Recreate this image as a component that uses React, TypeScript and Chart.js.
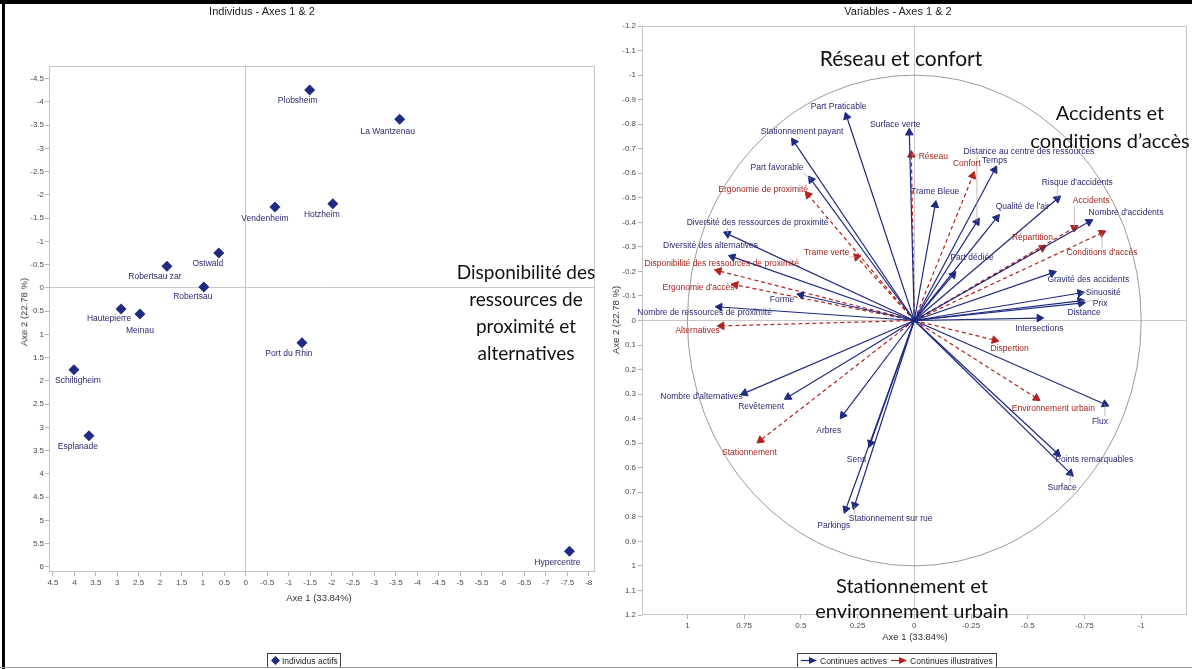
import React, { useEffect, useRef } from "react";
import { Chart, registerables } from "chart.js";

Chart.register(...registerables);

// ---------------- Left panel : individus ----------------
const indivNames = [
  "Plobsheim", "La Wantzenau", "Vendenheim", "Hotzheim", "Ostwald", "Robertsau zar",
  "Robertsau", "Hautepierre", "Meinau", "Port du Rhin", "Schiltigheim", "Esplanade", "Hypercentre",
];
const indivAxe1 = [-1.49, -3.59, -0.68, -2.03, 0.63, 1.84, 0.98, 2.91, 2.47, -1.31, 4.01, 3.66, -7.55];
const indivAxe2 = [-4.26, -3.63, -1.74, -1.81, -0.75, -0.47, -0.02, 0.45, 0.56, 1.18, 1.76, 3.18, 5.66];
// label offsets (px) relative to the marker
const indivLabelDx = [-12, -12, -10, -11, -11, -12, -11, -12, 0, -13, 4, -11, -12];
const indivLabelDy = [11, 12, 12, 11, 11, 11, 10, 10, 17, 11, 11, 11, 11];

const leftXTicks = [4.5, 4, 3.5, 3, 2.5, 2, 1.5, 1, 0.5, 0, -0.5, -1, -1.5, -2, -2.5, -3, -3.5, -4, -4.5, -5, -5.5, -6, -6.5, -7, -7.5, -8];
const leftYTicks = [-4.5, -4, -3.5, -3, -2.5, -2, -1.5, -1, -0.5, 0, 0.5, 1, 1.5, 2, 2.5, 3, 3.5, 4, 4.5, 5, 5.5, 6];

// ---------------- Right panel : variables ----------------
const activeNames = [
  "Part Praticable", "Stationnement payant", "Part favorable", "Surface verte", "Trame Bleue",
  "Temps", "Distance au centre des ressources", "Qualité de l'air", "Risque d'accidents",
  "Nombre d'accidents", "Part dédiée", "Gravité des accidents", "Sinuosité", "Prix", "Distance",
  "Intersections", "Flux", "Points remarquables", "Surface", "Parkings", "Stationnement sur rue",
  "Sens", "Arbres", "Revêtement", "Nombre d'alternatives", "Nombre de ressources de proximité",
  "Forme", "Diversité des alternatives", "Diversité des ressources de proximité",
];
const activeAxe1 = [
  0.298, 0.53, 0.455, 0.022, -0.092,
  -0.354, -0.276, -0.363, -0.63,
  -0.77, -0.171, -0.608, -0.731, -0.731, -0.735,
  -0.551, -0.84, -0.63, -0.687, 0.302, 0.263,
  0.193, 0.315, 0.556, 0.748, 0.858,
  0.499, 0.801, 0.823,
];
const activeAxe2 = [
  -0.831, -0.728, -0.574, -0.765, -0.471,
  -0.614, -0.402, -0.418, -0.496,
  -0.402, -0.186, -0.194, -0.112, -0.08, -0.071,
  -0.01, 0.341, 0.541, 0.622, 0.769, 0.753,
  0.5, 0.386, 0.312, 0.296, -0.055,
  -0.104, -0.259, -0.353,
];
const activeLabelDx = [-8, 8, -34, -14, 0, 0, 52, 26, 20, 37, 19, 36, 23, 20, 3, 0, -5, 37, -8, -12, 36, -14, -14, -27, -43, -15, -19, -22, 30];
const activeLabelDy = [-10, -10, -12, -8, -13, -9, -70, -11, -16, -9, -17, 7, 0, 3, 10, 11, 17, 6, 15, 16, 13, 16, 15, 10, 4, 6, 5, -11, -11];

const illusNames = [
  "Réseau", "Confort", "Ergonomie de proximité", "Trame verte",
  "Disponibilité des ressources de proximité", "Ergonomie d'accès", "Alternatives",
  "Stationnement", "Répartition", "Accidents", "Conditions d'accès", "Dispertion",
  "Environnement urbain",
];
const illusAxe1 = [0.013, -0.258, 0.468, 0.254, 0.862, 0.788, 0.849, 0.678, -0.565, -0.705, -0.827, -0.354, -0.538];
const illusAxe2 = [-0.675, -0.59, -0.512, -0.259, -0.202, -0.145, 0.022, 0.488, -0.296, -0.378, -0.357, 0.08, 0.316];
const illusLabelDx = [22, -6, -45, -30, 3, -37, -24, -11, -10, 17, 0, 15, 17];
const illusLabelDy = [2, -12, -5, -4, -7, 3, 5, 12, -10, -27, 20, 9, 11];

const leaderLabels = [
  "Distance au centre des ressources", "Accidents", "Conditions d'accès", "Gravité des accidents",
  "Flux", "Surface", "Stationnement sur rue", "Prix", "Distance", "Part favorable",
  "Diversité des ressources de proximité", "Répartition", "Réseau", "Trame verte",
  "Disponibilité des ressources de proximité", "Risque d'accidents", "Sinuosité",
];

const rightXTicks = [1, 0.75, 0.5, 0.25, 0, -0.25, -0.5, -0.75, -1];
const rightYTicks = [-1.2, -1.1, -1, -0.9, -0.8, -0.7, -0.6, -0.5, -0.4, -0.3, -0.2, -0.1, 0, 0.1, 0.2, 0.3, 0.4, 0.5, 0.6, 0.7, 0.8, 0.9, 1, 1.1, 1.2];

const NAVY = "#1f2a82";
const RED = "#b3221d";
const LABEL_NAVY = "#2a2a70";
const LABEL_RED = "#a3241f";
const FONT = '"Liberation Sans", Arial, sans-serif';
const BIG_FONT = 'Lato, "Open Sans", sans-serif';

function axis(ticks: number[], min: number, max: number, reverse: boolean, fit: (s: any) => void, pad: number) {
  return {
    type: "linear" as const,
    min,
    max,
    reverse,
    afterBuildTicks: (a: any) => {
      a.ticks = ticks.map((v) => ({ value: v }));
    },
    afterFit: fit,
    ticks: {
      autoSkip: false,
      maxRotation: 0,
      padding: pad,
      color: "#4a4a4a",
      font: { family: FONT, size: 8 },
      callback: (v: any) => String(v),
    },
    grid: {
      color: (c: any) => (c.tick && c.tick.value === 0 ? "#c8c8c8" : "rgba(0,0,0,0)"),
      lineWidth: 1,
      drawTicks: true,
      tickLength: 4,
      tickColor: "#b4b4b4",
    },
    border: { display: false },
    title: { display: false },
  };
}

const framePlugin = {
  id: "frame",
  beforeDatasetsDraw(chart: any, _a: any, opts: any) {
    const { ctx, chartArea: a, scales } = chart;
    ctx.save();
    ctx.strokeStyle = "#c4c4c4";
    ctx.lineWidth = 1;
    ctx.strokeRect(Math.round(a.left) + 0.5, Math.round(a.top) + 0.5, Math.round(a.right - a.left) - 1, Math.round(a.bottom - a.top) - 1);
    if (opts && opts.circle) {
      const cx = scales.x.getPixelForValue(0);
      const cy = scales.y.getPixelForValue(0);
      const rx = Math.abs(scales.x.getPixelForValue(1) - cx);
      const ry = Math.abs(scales.y.getPixelForValue(1) - cy);
      ctx.strokeStyle = "#9a9a9a";
      ctx.beginPath();
      ctx.ellipse(cx, cy, rx, ry, 0, 0, Math.PI * 2);
      ctx.stroke();
    }
    ctx.restore();
  },
};

const indivLabelPlugin = {
  id: "indivLabels",
  afterDatasetsDraw(chart: any) {
    const { ctx } = chart;
    const meta = chart.getDatasetMeta(0);
    ctx.save();
    ctx.font = `8.5px ${FONT}`;
    ctx.fillStyle = LABEL_NAVY;
    ctx.textAlign = "center";
    ctx.textBaseline = "middle";
    meta.data.forEach((el: any, i: number) => {
      ctx.fillText(indivNames[i], el.x + indivLabelDx[i], el.y + indivLabelDy[i]);
    });
    ctx.restore();
  },
};

type Vec = { name: string; x: number; y: number; color: string; label: string; dashed: boolean; dx: number; dy: number };

const vectors: Vec[] = [
  ...activeNames.map((n, i) => ({ name: n, x: activeAxe1[i], y: activeAxe2[i], color: NAVY, label: LABEL_NAVY, dashed: false, dx: activeLabelDx[i], dy: activeLabelDy[i] })),
  ...illusNames.map((n, i) => ({ name: n, x: illusAxe1[i], y: illusAxe2[i], color: RED, label: LABEL_RED, dashed: true, dx: illusLabelDx[i], dy: illusLabelDy[i] })),
];

const vectorLabelPlugin = {
  id: "vectorLabels",
  afterDatasetsDraw(chart: any) {
    const { ctx } = chart;
    ctx.save();
    ctx.font = `8.5px ${FONT}`;
    ctx.textAlign = "center";
    ctx.textBaseline = "middle";
    vectors.forEach((v, i) => {
      const tip = chart.getDatasetMeta(i).data[1];
      if (!tip) return;
      const lx = tip.x + v.dx;
      const ly = tip.y + v.dy;
      if (leaderLabels.includes(v.name)) {
        const w = ctx.measureText(v.name).width;
        const l = lx - w / 2, r = lx + w / 2, t = ly - 5, b = ly + 5;
        const nx = Math.min(Math.max(tip.x, l), r);
        const ny = Math.min(Math.max(tip.y, t), b);
        if (Math.hypot(nx - tip.x, ny - tip.y) > 5) {
          ctx.strokeStyle = "#a0a0a0";
          ctx.lineWidth = 0.7;
          ctx.beginPath();
          ctx.moveTo(nx, ny);
          ctx.lineTo(tip.x, tip.y);
          ctx.stroke();
        }
      }
      ctx.fillStyle = v.label;
      ctx.fillText(v.name, lx, ly);
    });
    ctx.restore();
  },
};

function arrowAngle(c: any) {
  const ch = c.chart;
  const sx = ch.scales && ch.scales.x;
  const sy = ch.scales && ch.scales.y;
  const p = c.raw;
  if (!p || !sx || !sy) return 0;
  const dx = sx.getPixelForValue(p.x) - sx.getPixelForValue(0);
  const dy = sy.getPixelForValue(p.y) - sy.getPixelForValue(0);
  return (Math.atan2(dx, -dy) * 180) / Math.PI;
}

function makeLeft(canvas: HTMLCanvasElement) {
  return new Chart(canvas, {
    type: "scatter",
    data: {
      datasets: [
        {
          label: "Individus actifs",
          data: indivNames.map((_, i) => ({ x: indivAxe1[i], y: indivAxe2[i] })),
          pointStyle: "rectRot",
          pointRadius: 5.5,
          backgroundColor: NAVY,
          borderColor: NAVY,
          borderWidth: 0,
        },
      ],
    },
    options: {
      animation: false,
      responsive: false,
      events: [],
      layout: { padding: { top: 66, right: 5, left: 0, bottom: 0 } },
      plugins: { legend: { display: false }, tooltip: { enabled: false }, title: { display: false } },
      scales: {
        x: axis(leftXTicks, -8.135, 4.592, true, (s: any) => { s.height = 97; }, 2),
        y: axis(leftYTicks, -4.774, 6.108, true, (s: any) => { s.width = 49; }, 1),
      },
    } as any,
    plugins: [framePlugin, indivLabelPlugin],
  });
}

function makeRight(canvas: HTMLCanvasElement) {
  return new Chart(canvas, {
    type: "scatter",
    data: {
      datasets: vectors.map((v) => ({
        label: v.name,
        showLine: true,
        data: [{ x: 0, y: 0 }, { x: v.x, y: v.y }],
        borderColor: v.color,
        borderWidth: 1.2,
        borderDash: v.dashed ? [4, 3] : [],
        pointRadius: [0, 4.4],
        pointStyle: "triangle",
        pointBackgroundColor: v.color,
        pointBorderColor: v.color,
        pointBorderWidth: 1,
        pointRotation: arrowAngle,
      })),
    },
    options: {
      animation: false,
      responsive: false,
      events: [],
      layout: { padding: { top: 26, right: 2, left: 0, bottom: 0 } },
      plugins: { legend: { display: false }, tooltip: { enabled: false }, title: { display: false }, frame: { circle: true } },
      scales: {
        x: axis(rightXTicks, -1.2, 1.2, true, (s: any) => { s.height = 54; }, 2),
        y: axis(rightYTicks, -1.2, 1.2, true, (s: any) => { s.width = 42; }, 2),
      },
    } as any,
    plugins: [framePlugin, vectorLabelPlugin],
  });
}

const abs = (x: number, y: number, extra: React.CSSProperties = {}): React.CSSProperties => ({
  position: "absolute",
  left: x,
  top: y,
  transform: "translate(-50%, -50%)",
  whiteSpace: "nowrap",
  lineHeight: 1,
  ...extra,
});

const bigText: React.CSSProperties = { fontFamily: BIG_FONT, fontSize: 20, color: "#111", textAlign: "center" };

export default function App() {
  const leftRef = useRef<HTMLCanvasElement>(null);
  const rightRef = useRef<HTMLCanvasElement>(null);

  useEffect(() => {
    document.body.style.margin = "0";
    const charts: Chart[] = [];
    if (leftRef.current) charts.push(makeLeft(leftRef.current));
    if (rightRef.current) charts.push(makeRight(rightRef.current));
    return () => charts.forEach((c) => c.destroy());
  }, []);

  return (
    <div style={{ position: "relative", width: 1192, height: 669, background: "#fff", overflow: "hidden", fontFamily: FONT }}>
      <canvas ref={leftRef} width={600} height={669} style={{ position: "absolute", left: 0, top: 0 }} />
      <canvas ref={rightRef} width={592} height={669} style={{ position: "absolute", left: 600, top: 0 }} />

      {/* frame */}
      <div style={{ position: "absolute", left: 0, top: 0, width: 1192, height: 4, background: "#000" }} />
      <div style={{ position: "absolute", left: 2, top: 0, width: 3, height: 669, background: "#000" }} />
      <div style={{ position: "absolute", left: 0, top: 667, width: 1192, height: 1, background: "#9a9a9a" }} />

      {/* titles */}
      <div style={abs(262, 11, { fontSize: 11, color: "#222" })}>Individus - Axes 1 &amp; 2</div>
      <div style={abs(898, 11, { fontSize: 11, color: "#222" })}>Variables - Axes 1 &amp; 2</div>

      {/* axis titles */}
      <div style={abs(319, 598, { fontSize: 9.5, color: "#333" })}>Axe 1 (33.84%)</div>
      <div style={abs(24, 312, { fontSize: 9.5, color: "#333", transform: "translate(-50%, -50%) rotate(-90deg)" })}>Axe 2 (22.78 %)</div>
      <div style={abs(915, 637, { fontSize: 9.5, color: "#333" })}>Axe 1 (33.84%)</div>
      <div style={abs(616, 320, { fontSize: 9.5, color: "#333", transform: "translate(-50%, -50%) rotate(-90deg)" })}>Axe 2 (22.78 %)</div>

      {/* legends */}
      <div style={{ position: "absolute", left: 267, top: 653, height: 13, padding: "0 2px 0 3px", border: "1px solid #444", borderBottom: "none", display: "flex", alignItems: "center", fontSize: 8.5, color: "#222" }}>
        <svg width="9" height="9" style={{ marginRight: 2 }}>
          <polygon points="4.5,0 9,4.5 4.5,9 0,4.5" fill={NAVY} />
        </svg>
        Individus actifs
      </div>
      <div style={{ position: "absolute", left: 797, top: 653, height: 13, padding: "0 3px", border: "1px solid #444", borderBottom: "none", display: "flex", alignItems: "center", fontSize: 8.5, color: "#222" }}>
        <svg width="17" height="9" style={{ marginRight: 2 }}>
          <line x1="0" y1="4.5" x2="10" y2="4.5" stroke={NAVY} strokeWidth="1.2" />
          <polygon points="8,1 16,4.5 8,8" fill={NAVY} />
        </svg>
        Continues actives
        <svg width="17" height="9" style={{ marginLeft: 4, marginRight: 2 }}>
          <line x1="0" y1="4.5" x2="10" y2="4.5" stroke={RED} strokeWidth="1.2" />
          <polygon points="8,1 16,4.5 8,8" fill={RED} />
        </svg>
        Continues illustratives
      </div>

      {/* big annotations */}
      <div style={{ position: "absolute", left: 526, top: 258, transform: "translateX(-50%)", whiteSpace: "nowrap", lineHeight: "27px", ...bigText, fontSize: 19 }}>
        Disponibilité des<br />ressources de<br />proximité et<br />alternatives
      </div>
      <div style={{ ...abs(901, 57), ...bigText, fontSize: 21 }}>Réseau et confort</div>
      <div style={{ position: "absolute", left: 1110, top: 98, transform: "translateX(-50%)", whiteSpace: "nowrap", lineHeight: "28px", ...bigText }}>
        Accidents et<br />conditions d’accès
      </div>
      <div style={{ position: "absolute", left: 912, top: 573, transform: "translateX(-50%)", whiteSpace: "nowrap", lineHeight: "25px", ...bigText }}>
        Stationnement et<br />environnement urbain
      </div>
    </div>
  );
}
